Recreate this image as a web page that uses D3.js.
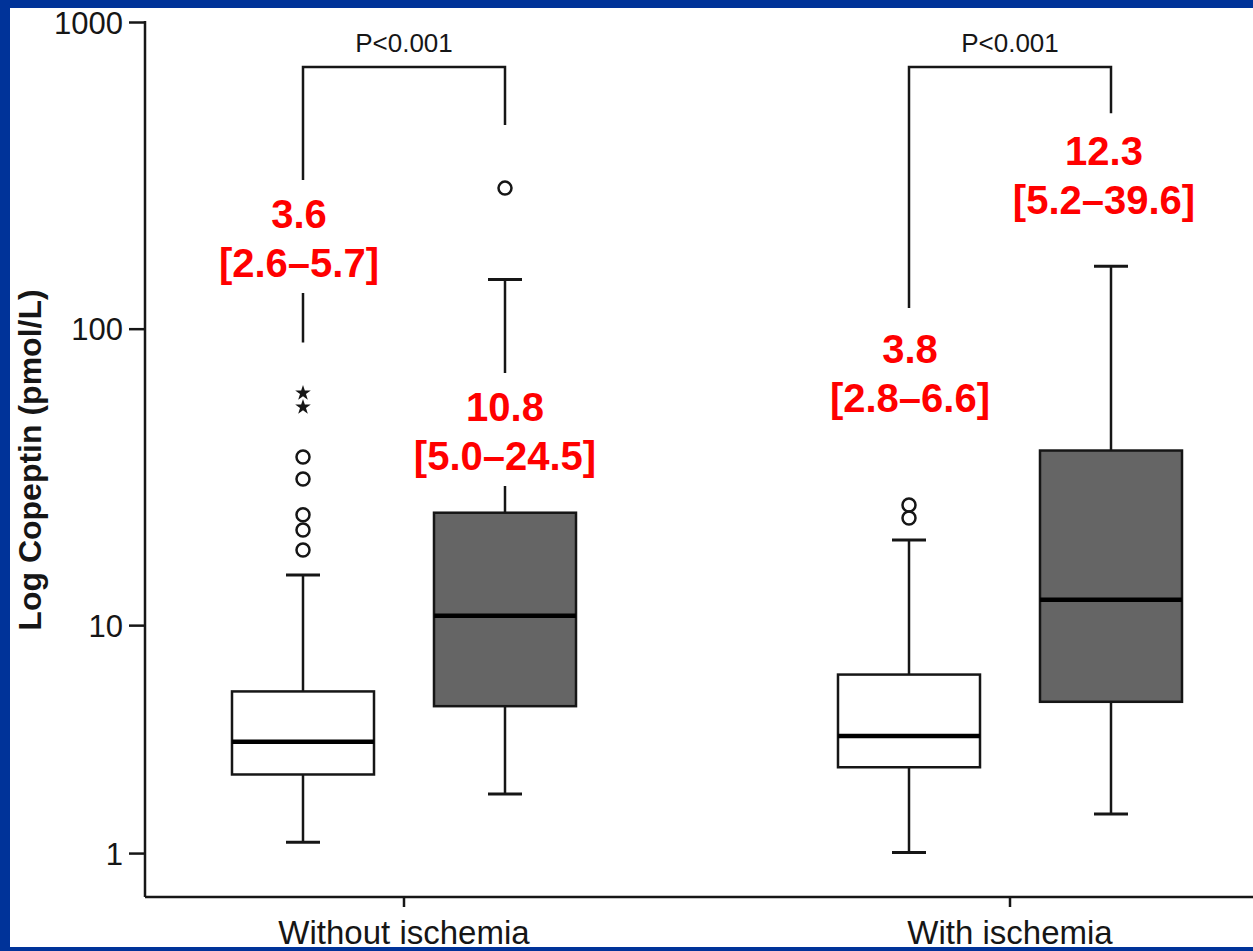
<!DOCTYPE html>
<html>
<head>
<meta charset="utf-8">
<script src="https://cdn.jsdelivr.net/npm/d3@7/dist/d3.min.js"></script>
<style>
  html, body { margin: 0; padding: 0; background: #003399; }
  svg { display: block; }
  text { font-family: "Liberation Sans", Arial, sans-serif; }
</style>
</head>
<body>
<svg id="chart" width="1253" height="951"></svg>
<script>
// ---- data ----
const categories = ["Without ischemia", "With ischemia"];
const subgroups = ["low", "high"];
// one entry per box, ordered category by category, low then high
const boxCategory = ["Without ischemia", "Without ischemia", "With ischemia", "With ischemia"];
const boxSubgroup = ["low", "high", "low", "high"];
const medians = [3.6, 10.8, 3.8, 12.3];
const q1s = [2.6, 5.0, 2.8, 5.2];
const q3s = [5.7, 24.5, 6.6, 39.6];
const whiskerLow = [1.17, 2.11, 1.01, 1.68];
const whiskerHigh = [15.0, 145, 19.8, 160];
const outliers = [[18.3, 21.4, 24.1, 31.8, 37.7], [288], [23.5, 26.0], []];
const extremes = [[55.2, 61.4], [], [], []];
const yTicks = [1, 10, 100, 1000];
const pLabels = ["P<0.001", "P<0.001"];
const bracketTop = [714, 714];
const bracketLeftEnd = [90, 117];
const bracketRightEnd = [462, 505];

// ---- layout ----
const W = 1253, H = 951;
const axisX = 145, axisY = 897;
const labelBaseline = [228, 421, 363, 165];
const labelDx = [-4, 0, 1, -7];
const ink = "#161616";

const svg = d3.select("#chart");

// frame: blue border with white panel
svg.append("rect").attr("width", W).attr("height", H).attr("fill", "#003399");
svg.append("rect").attr("x", 10).attr("y", 8).attr("width", W - 10).attr("height", 939).attr("fill", "#ffffff");

// log(1 + x) scale
const y = d3.scaleSymlog().constant(1).domain([0.44, 1000]).range([axisY, 22]);

const x = d3.scaleBand().domain(categories).range([101, 1313]).padding(0);
const xs = d3.scaleBand().domain(subgroups).range([0, x.bandwidth() * 2 / 3]).padding(0);
const boxW = xs.bandwidth() * 0.703;
const cx = i => x(boxCategory[i]) + xs(boxSubgroup[i]) + xs.bandwidth();

// y axis
const yAxis = d3.axisLeft(y).tickValues(yTicks).tickFormat(d3.format("d")).tickSize(16).tickPadding(6);
const gy = svg.append("g").attr("transform", `translate(${axisX},0)`).call(yAxis);
gy.select(".domain").remove();
gy.selectAll(".tick line").attr("stroke", ink).attr("stroke-width", 2.5);
gy.selectAll(".tick text").attr("fill", ink).style("font-size", "31px").attr("dy", "0.36em");
svg.append("line").attr("x1", axisX).attr("x2", axisX).attr("y1", y(1000) - 1).attr("y2", axisY)
  .attr("stroke", ink).attr("stroke-width", 2.5);

// x axis
svg.append("line").attr("x1", axisX).attr("x2", W).attr("y1", axisY).attr("y2", axisY)
  .attr("stroke", ink).attr("stroke-width", 2.5);
categories.forEach(c => {
  const xc = x(c) + x.bandwidth() / 2;
  svg.append("line").attr("x1", xc).attr("x2", xc).attr("y1", axisY).attr("y2", axisY + 10)
    .attr("stroke", ink).attr("stroke-width", 2.5);
  svg.append("text").attr("x", xc).attr("y", 944).attr("text-anchor", "middle")
    .attr("fill", ink).style("font-size", "33px").text(c);
});

// y axis title
svg.append("text").attr("transform", "translate(41,460) rotate(-90)").attr("text-anchor", "middle")
  .attr("fill", ink).style("font-size", "32px").style("font-weight", "bold").text("Log Copeptin (pmol/L)");

// significance brackets
categories.forEach((c, k) => {
  const xl = cx(2 * k), xr = cx(2 * k + 1);
  const yt = y(bracketTop[k]);
  svg.append("path")
    .attr("d", `M${xl},${y(bracketLeftEnd[k])}V${yt}H${xr}V${y(bracketRightEnd[k])}`)
    .attr("fill", "none").attr("stroke", ink).attr("stroke-width", 2.5);
  svg.append("text").attr("x", (xl + xr) / 2).attr("y", 52).attr("text-anchor", "middle")
    .attr("fill", ink).style("font-size", "26px").text(pLabels[k]);
});

// boxes
medians.forEach((m, i) => {
  const g = svg.append("g");
  const c = cx(i);
  const fill = boxSubgroup[i] === "low" ? "#ffffff" : "#656565";
  // whiskers
  g.append("line").attr("x1", c).attr("x2", c).attr("y1", y(whiskerHigh[i])).attr("y2", y(q3s[i]))
    .attr("stroke", ink).attr("stroke-width", 2.5);
  g.append("line").attr("x1", c).attr("x2", c).attr("y1", y(q1s[i])).attr("y2", y(whiskerLow[i]))
    .attr("stroke", ink).attr("stroke-width", 2.5);
  [whiskerHigh[i], whiskerLow[i]].forEach(v => {
    g.append("line").attr("x1", c - 17).attr("x2", c + 17).attr("y1", y(v)).attr("y2", y(v))
      .attr("stroke", ink).attr("stroke-width", 3);
  });
  g.append("rect").attr("x", c - boxW / 2).attr("width", boxW)
    .attr("y", y(q3s[i])).attr("height", y(q1s[i]) - y(q3s[i]))
    .attr("fill", fill).attr("stroke", ink).attr("stroke-width", 2.5);
  g.append("line").attr("x1", c - boxW / 2).attr("x2", c + boxW / 2).attr("y1", y(m)).attr("y2", y(m))
    .attr("stroke", "#000").attr("stroke-width", 4.5);
  outliers[i].forEach(v => {
    g.append("circle").attr("cx", c).attr("cy", y(v)).attr("r", 6.5)
      .attr("fill", "none").attr("stroke", ink).attr("stroke-width", 2.5);
  });
  extremes[i].forEach(v => {
    g.append("path").attr("d", d3.symbol(d3.symbolStar, 75)())
      .attr("transform", `translate(${c},${y(v)})`).attr("fill", ink);
  });
});

// median [IQR] labels on white backing
medians.forEach((m, i) => {
  const lx = cx(i) + labelDx[i];
  const lines = [m.toFixed(1), `[${q1s[i].toFixed(1)}\u2013${q3s[i].toFixed(1)}]`];
  lines.forEach((t, j) => {
    const by = labelBaseline[i] + j * 49;
    const txt = svg.append("text").attr("x", lx).attr("y", by).attr("text-anchor", "middle")
      .attr("fill", "#ff0000").style("font-size", "40px").style("font-weight", "bold").text(t);
    const bb = txt.node().getBBox();
    svg.insert("rect", () => txt.node())
      .attr("x", bb.x - 6).attr("width", bb.width + 12)
      .attr("y", by - 48).attr("height", j === 0 ? 52 : 64).attr("fill", "#ffffff");
  });
});
</script>
</body>
</html>
